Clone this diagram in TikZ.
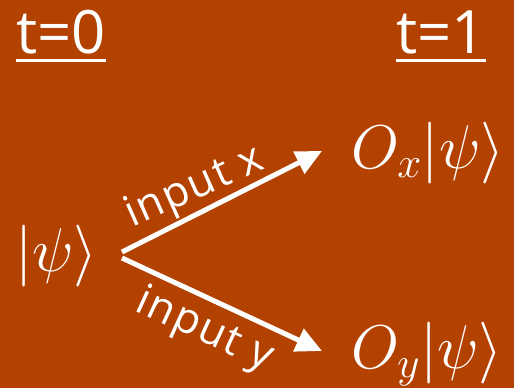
\RequirePackage{fix-cm}
\documentclass[tikz,border=0pt]{standalone}
\usepackage{fontspec}
\setmainfont{Open Sans}
\newfontfamily\labfont[LetterSpace=4]{Open Sans}
\usetikzlibrary{arrows.meta,calc}
\definecolor{bgbrown}{RGB}{179,65,0}
\tikzset{
  head/.style={text=white,inner sep=0pt,font=\fontsize{60}{66}\selectfont,anchor=base west},
  state/.style={text=white,inner sep=0pt,font=\fontsize{62}{68}\selectfont,anchor=base west},
  lab/.style={text=white,inner sep=0pt,font=\labfont\fontsize{43}{47}\selectfont,anchor=base west},
  uline/.style={white,line width=3bp},
  arr/.style={white,line width=5bp,-{Triangle[length=26bp,width=24bp]}}
}
\begin{document}
\begin{tikzpicture}[x=1bp,y=-1bp]
\useasboundingbox[fill=bgbrown] (0,0) rectangle (514,388);
\node[head] (t0) at (16,53) {t=0};
\node[head] (t1) at (396,53) {t=1};
\draw[uline] ($(t0.base west)+(0,7)$) -- ($(t0.base east)+(0,7)$);
\draw[uline] ($(t1.base west)+(0,7)$) -- ($(t1.base east)+(0,7)$);
\node[state] (psi) at (15,271) {$|\psi\rangle$};
\node[state] (ox) at (351,168) {$O_x|\psi\rangle$};
\node[state] (oy) at (351,368) {$O_y|\psi\rangle$};
\coordinate (sa) at (122,252);
\coordinate (sb) at (122,258);
\coordinate (ta) at (322,151);
\coordinate (tb) at (322,351);
\draw[arr] (sa) -- (ta);
\draw[arr] (sb) -- (tb);
\node[lab,rotate=24] (lx) at (132,228) {input x};
\node[lab,rotate=-24.6] (ly) at (133,310) {input y};
\end{tikzpicture}
\end{document}
